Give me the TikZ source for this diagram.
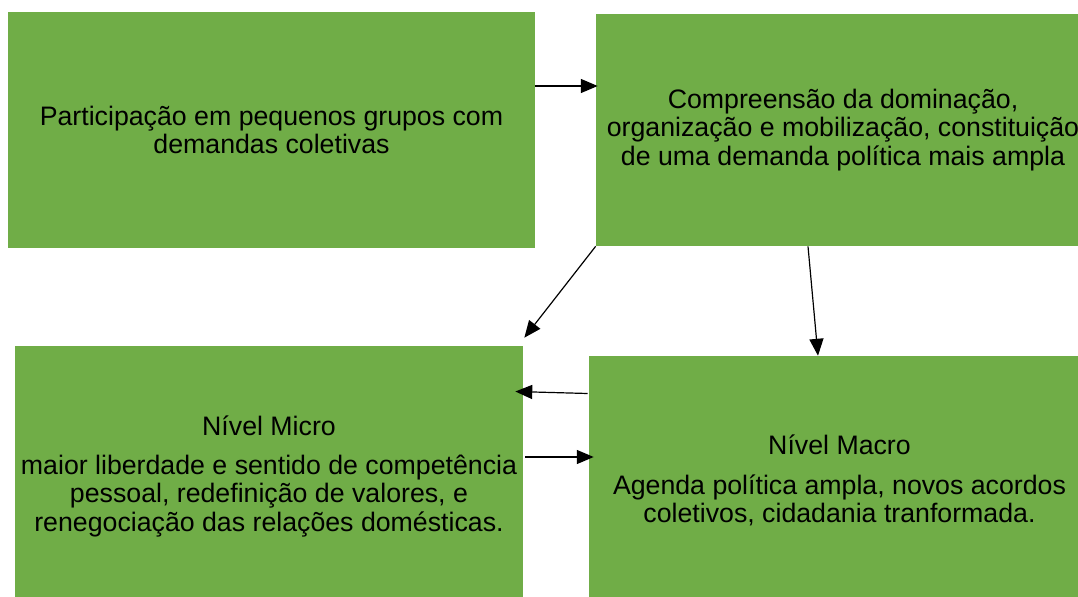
\documentclass[tikz,border=0pt]{standalone}
\usepackage{fontspec}
\setmainfont{Liberation Sans}
\usetikzlibrary{calc,arrows.meta}
\definecolor{boxgreen}{HTML}{70AD47}
\tikzset{
  box/.style={fill=boxgreen, draw=none, align=center, inner sep=0pt,
    font=\fontsize{19}{20.4}\selectfont},
  link/.style={line width=0.85pt, -{Triangle[length=12pt,width=10pt]}}
}
\begin{document}
\begin{tikzpicture}[x=0.025cm, y=0.025cm]
  %%%%% START %%%%%
  \useasboundingbox (0,0) rectangle (1078,-597);

  \node[box, minimum width=13.175cm, minimum height=5.9cm] (grupos) at (271.5,-130)
    {Participação em pequenos grupos com\\demandas coletivas};
  \node[box, minimum width=12.35cm, minimum height=5.8cm] (compreensao) at (843,-130)
    {Compreensão da dominação,\\organização e mobilização, constituição\\de uma demanda política mais ampla};
  \node[box, minimum width=12.7cm, minimum height=6.525cm] (micro) at (269,-476.5)
    {Nível Micro\\[7pt]maior liberdade e sentido de competência\\pessoal, redefinição de valores, e\\renegociação das relações domésticas.};
  \node[box, minimum width=12.525cm, minimum height=6.225cm] (macro) at (839.5,-480.5)
    {Nível Macro\\[8pt]Agenda política ampla, novos acordos\\coletivos, cidadania tranformada.};

  % arrows
  \draw[link] ($(grupos.east)+(0,44)$) -- ($(compreensao.west)+(2,44)$);
  \draw[link] (compreensao.south west) -- ($(micro.north east)+(1,8)$);
  \draw[link] ($(compreensao.south)+(-35,0)$) -- ($(macro.north)+(-21.5,0)$);
  \draw[link] ($(macro.west)+(-1,87)$) -- ($(micro.east)+(-8,85)$);
  \draw[link] ($(micro.east)+(2,19.5)$) -- ($(macro.west)+(5,23.5)$);

  %%%%% END %%%%%
\end{tikzpicture}
\end{document}
